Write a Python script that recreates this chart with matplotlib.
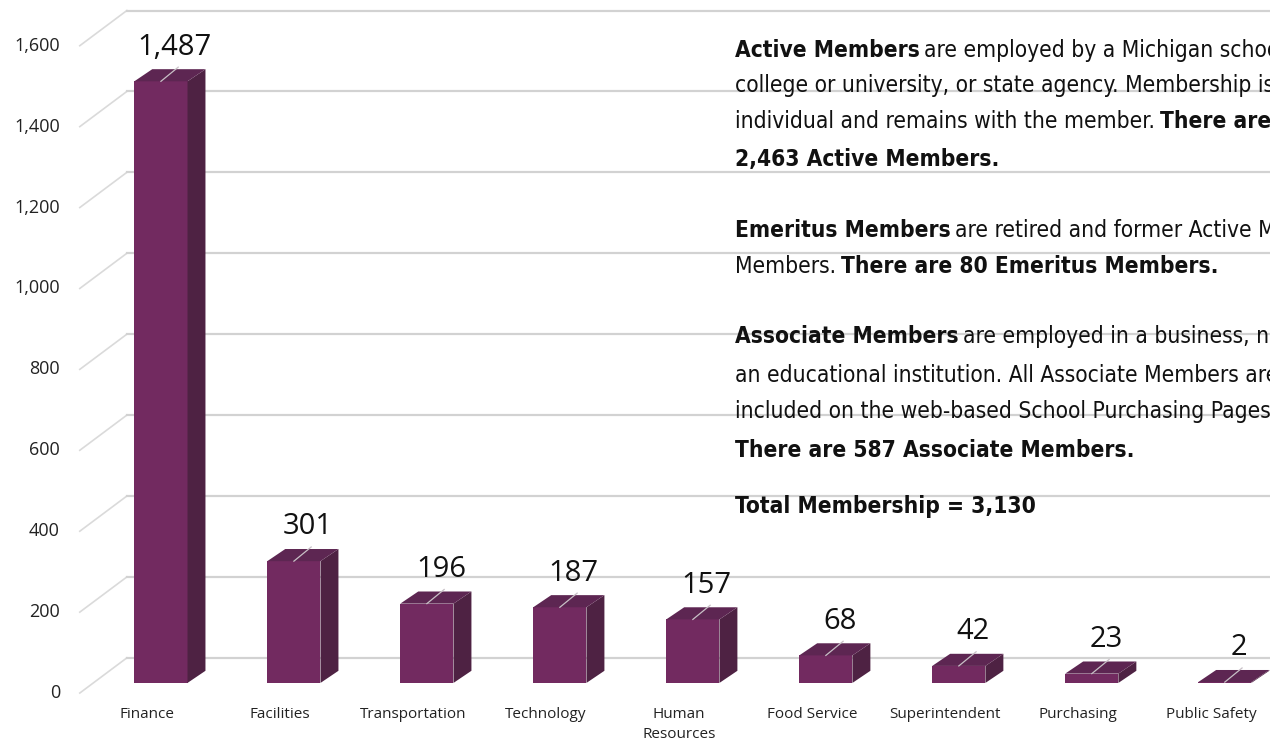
import matplotlib
matplotlib.use("Agg")
import matplotlib.pyplot as plt
from matplotlib import font_manager as fm
from matplotlib.patches import Polygon, Rectangle

# == data
categories = ["Finance", "Facilities", "Transportation", "Technology", "Human\nResources",
              "Food Service", "Superintendent", "Purchasing", "Public Safety"]
members = [1487, 301, 196, 187, 157, 68, 42, 23, 2]
yTicks = [0, 200, 400, 600, 800, 1000, 1200, 1400, 1600]
yTickLabels = ["0", "200", "400", "600", "800", "1,000", "1,200", "1,400", "1,600"]

# (text, bold) segments for each line of the note panel
noteLines = [
    [("Active Members", True), ("are employed by a Michigan school,", False)],
    [("college or university, or state agency. Membership is", False)],
    [("individual and remains with the member.", False), ("There are", True)],
    [("2,463 Active Members.", True)],
    [("Emeritus Members", True), ("are retired and former Active Members or Associate", False)],
    [("Members.", False), ("There are 80 Emeritus Members.", True)],
    [("Associate Members", True), ("are employed in a business, not", False)],
    [("an educational institution. All Associate Members are", False)],
    [("included on the web-based School Purchasing Pages.", False)],
    [("There are 587 Associate Members.", True)],
    [("Total Membership = 3,130", True)],
]
noteBaselines = [57, 92, 128, 166, 237, 273, 343, 382, 418, 457, 513]  # px from top

# == style / fake-3d geometry
FRONT = "#722a60"
SIDE = "#4e2243"
TOP = "#5d2652"
GRID = "#d2d2d2"
HALF_W = 0.2
DEPTH_X, DEPTH_Y = 0.135, 30
WALL_X0, WALL_X1 = -0.61, -0.256
WALL_FRONT, WALL_BACK = -25, 62

NUM_FONT = ["Open Sans", "DejaVu Sans"]


def noteFont(bold):
    # look for a narrow / condensed face, the note text is set in a condensed font
    weight = "bold" if bold else "normal"
    for f in fm.fontManager.ttflist:
        if f.name == "Liberation Sans Narrow" and f.style == "normal" and \
                ((f.weight >= 600) == bold):
            return fm.FontProperties(fname=f.fname), 18
    for f in fm.fontManager.ttflist:
        if f.name == "DejaVu Sans" and "ondensed" in f.fname and "Oblique" not in f.fname and \
                (("Bold" in f.fname) == bold):
            return fm.FontProperties(fname=f.fname), 16.3
    return fm.FontProperties(family="Liberation Sans", weight=weight), 16.5


fig = plt.figure(figsize=(12.7, 7.42), dpi=100)
ax = fig.add_axes([0, 0, 1, 1])
ax.set_xlim(-1.21, 8.34)
ax.set_ylim(-146, 1688)
ax.axis("off")

# = perspective gridlines (side wall + back wall)
for v, lbl in zip(yTicks, yTickLabels):
    ax.plot([WALL_X0, WALL_X1], [v + WALL_FRONT, v + WALL_BACK], color="#dadada", lw=1.2, zorder=1)
    ax.plot([WALL_X1, 8.5], [v + WALL_BACK, v + WALL_BACK], color=GRID, lw=1.6, zorder=1)
    ax.text(-0.759, v + WALL_FRONT, lbl, ha="right", va="center", fontsize=13,
            family=NUM_FONT, color="#222222")

# = bars
for i, (cat, v) in enumerate(zip(categories, members)):
    x0, x1 = i - HALF_W, i + HALF_W
    ax.add_patch(Rectangle((x0, 0), 2 * HALF_W, v, fc=FRONT, ec="none", zorder=2))
    ax.add_patch(Polygon([(x1, 0), (x1 + DEPTH_X, DEPTH_Y), (x1 + DEPTH_X, v + DEPTH_Y), (x1, v)],
                         closed=True, fc=SIDE, ec="none", zorder=2))
    ax.add_patch(Polygon([(x0, v), (x1, v), (x1 + DEPTH_X, v + DEPTH_Y), (x0 + DEPTH_X, v + DEPTH_Y)],
                         closed=True, fc=TOP, ec="none", zorder=2))
    ax.plot([i, i + 0.13], [v, v + 35], color="#c8c0c6", lw=0.9, zorder=3)
    ax.text(i + 0.105, v + 66, f"{v:,}", ha="center", va="baseline", fontsize=21,
            family=NUM_FONT, color="#111111", zorder=4)
    ax.text(i - 0.105, -59, cat, ha="center", va="top", fontsize=11, linespacing=1.5,
            family=NUM_FONT, color="#222222")

# = note panel, mixed bold / regular runs chained one after another
for segs, py in zip(noteLines, noteBaselines):
    prev = None
    for s, bold in segs:
        fp, size = noteFont(bold)
        fp.set_size(size)
        kw = dict(fontproperties=fp, color="#111111", zorder=5)
        if prev is None:
            prev = fig.text(735 / 1270, 1 - py / 742, s, ha="left", va="baseline", **kw)
        else:
            prev = ax.annotate(s, xy=(1, 0), xycoords=prev, xytext=(0.2 * size, 0),
                               textcoords="offset points", ha="left", va="bottom", **kw)

fig.savefig("out.png", dpi=100)
